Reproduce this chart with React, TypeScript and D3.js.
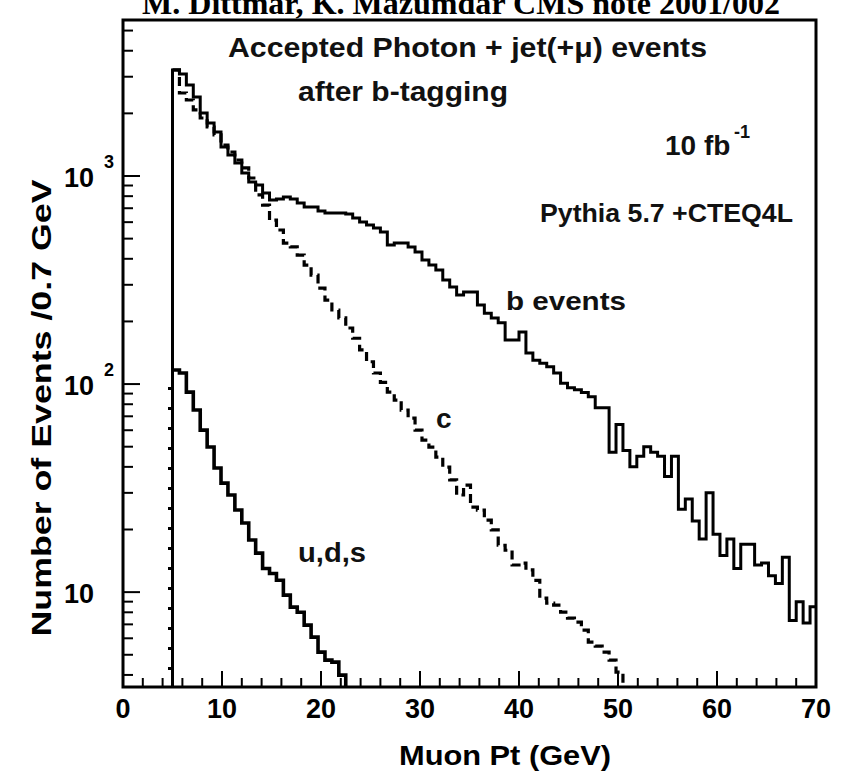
import React from "react";
import * as d3 from "d3";

// ---- data ----
const binStart = 5; // GeV
const binWidth = 0.7; // GeV

const bEvents = [3234, 3094, 2738, 2398, 2009, 1798, 1627, 1379, 1262, 1155,
  1034, 936, 905, 829, 767, 775, 793, 775, 742, 710,
  710, 679, 664, 664, 664, 657, 628, 601, 581, 562,
  538, 466, 476, 476, 456, 431, 395, 373, 353, 316,
  293, 268, 277, 277, 240, 219, 208, 197, 163, 163,
  178, 141, 130, 126, 121, 113, 101, 96, 94, 91,
  87, 77, 77, 47, 64, 48, 40, 45, 50, 47,
  45, 36, 45, 25, 28, 22, 18, 30, 19, 15,
  18, 13, 17, 17, 13.5, 13.8, 12, 11, 14.7, 7.3,
  9, 7.1, 8.5];

const cEvents = [3234, 2506, 2319, 2077, 1900, 1720, 1575, 1409, 1304, 1194,
  1093, 978, 811, 725, 614, 550, 476, 456, 417, 373,
  334, 289, 253, 227, 208, 186, 166, 146, 128, 113,
  102, 91.5, 83.8, 75, 68.6, 60.1, 53.8, 49.8, 44.6, 39.9,
  34.6, 29.3, 32.7, 25.6, 24.8, 22.2, 19.9, 16.8, 15.9, 13.5,
  13.8, 12.8, 11.4, 9.36, 8.85, 8.66, 8.01, 7.5, 7.17, 6.57,
  5.75, 5.5, 5.15, 4.71, 4.13, 3.0];

const udsEvents = [116.8, 113, 91.5, 75, 60.1, 49.8, 39.5, 33.4, 29.3, 24.8,
  21.5, 17.8, 15.4, 13, 12.3, 11.4, 9.67, 8.47, 8.01, 6.94,
  6.08, 5.15, 4.71, 4.61, 3.99, 3.0];

const xTicksMajor = [0, 10, 20, 30, 40, 50, 60, 70];
const yDecades = [10, 100, 1000];
const yDecadeExp = ["", "2", "3"];

const xDomain = [0, 70];
const yDomain = [3.5, 5620];

const W = 841;
const H = 773;
const plot = { left: 123, right: 816, top: 20, bottom: 687 };

const FONT = "'Liberation Sans', Arial, Helvetica, sans-serif";

export default function App() {
  const x = d3.scaleLinear().domain(xDomain).range([plot.left, plot.right]);
  const y = d3.scaleLog().domain(yDomain).range([plot.bottom, plot.top]);

  const histPath = (vals: number[], withEdge = true) => {
    const pts: [number, number][] = vals.map((v, i) => [binStart + i * binWidth, v]);
    pts.push([binStart + vals.length * binWidth, vals[vals.length - 1]]);
    const line = d3
      .line<[number, number]>()
      .x((d) => x(d[0]))
      .y((d) => y(Math.max(d[1], 1)))
      .curve(d3.curveStepAfter);
    const body = line(pts) || "";
    if (!withEdge) return body;
    return `M${x(binStart)},${plot.bottom + 2}L${body.slice(1)}`;
  };

  // minor ticks
  const xMinor = d3.range(0, 71, 2).filter((v) => v % 10 !== 0);
  const yMinor: number[] = [];
  [1, 10, 100, 1000].forEach((dec) => {
    for (let k = 2; k <= 9; k++) {
      const v = dec * k;
      if (v >= yDomain[0] && v <= yDomain[1]) yMinor.push(v);
    }
  });

  return (
    <svg
      width={W}
      height={H}
      style={{ position: "absolute", left: 0, top: 0, background: "#fff" }}
      fontFamily={FONT}
    >
      <defs>
        <clipPath id="plotClip">
          <rect x={plot.left} y={plot.top} width={plot.right - plot.left} height={plot.bottom - plot.top} />
        </clipPath>
      </defs>

      {/* title (cut off at top, as in the reference) */}
      <text
        x={461}
        y={14}
        textAnchor="middle"
        fontFamily="'Liberation Serif', 'Times New Roman', serif"
        fontWeight="bold"
        fontSize={32}
        textLength={638}
        lengthAdjust="spacingAndGlyphs"
      >
        M. Dittmar, K. Mazumdar CMS note 2001/002
      </text>

      {/* histograms */}
      <g clipPath="url(#plotClip)" fill="none" stroke="#000">
        <path d={histPath(bEvents)} strokeWidth={3} strokeLinejoin="miter" />
        <path d={histPath(cEvents, false)} strokeWidth={3.2} strokeDasharray="9 5" />
        <path d={histPath(udsEvents, false)} strokeWidth={3.6} />
        <line
          x1={x(binStart) - 3}
          x2={x(binStart) - 3}
          y1={plot.bottom + 3}
          y2={y(udsEvents[0])}
          strokeWidth={3}
          strokeDasharray="3 17"
        />
      </g>

      {/* ticks */}
      <g stroke="#000" strokeWidth={2}>
        {xTicksMajor.map((t) => (
          <line key={"xM" + t} x1={x(t)} x2={x(t)} y1={plot.bottom} y2={plot.bottom - 16} />
        ))}
        {xMinor.map((t) => (
          <line key={"xm" + t} x1={x(t)} x2={x(t)} y1={plot.bottom} y2={plot.bottom - 9} />
        ))}
        {yDecades.map((t) => (
          <line key={"yM" + t} x1={plot.left} x2={plot.left + 17} y1={y(t)} y2={y(t)} />
        ))}
        {yMinor.map((t) => (
          <line key={"ym" + t} x1={plot.left} x2={plot.left + 10} y1={y(t)} y2={y(t)} />
        ))}
      </g>

      {/* frame */}
      <rect
        x={plot.left}
        y={plot.top}
        width={plot.right - plot.left}
        height={plot.bottom - plot.top}
        fill="none"
        stroke="#000"
        strokeWidth={3}
      />

      {/* x tick labels */}
      <g fontSize={27} fontWeight="bold" textAnchor="middle">
        {xTicksMajor.map((t) => (
          <text key={"xl" + t} x={x(t)} y={718}>
            {t}
          </text>
        ))}
      </g>

      {/* y tick labels */}
      <g fontSize={27} fontWeight="bold">
        {yDecades.map((t, i) => (
          <g key={"yl" + t}>
            <text x={94} y={y(t) + 11} textAnchor="end">
              10
            </text>
            {yDecadeExp[i] && (
              <text x={104} y={y(t) - 8} fontSize={18}>
                {yDecadeExp[i]}
              </text>
            )}
          </g>
        ))}
      </g>

      {/* axis titles */}
      <text
        x={505}
        y={765}
        textAnchor="middle"
        fontSize={28}
        fontWeight="bold"
        textLength={212}
        lengthAdjust="spacingAndGlyphs"
      >
        Muon Pt (GeV)
      </text>
      <text
        transform="translate(51,408) rotate(-90)"
        textAnchor="middle"
        fontSize={28}
        fontWeight="bold"
        textLength={457}
        lengthAdjust="spacingAndGlyphs"
      >
        Number of Events /0.7 GeV
      </text>

      {/* annotations */}
      <g fontWeight="bold" fill="#111">
        <text x={228} y={57} fontSize={28} textLength={479} lengthAdjust="spacingAndGlyphs">
          Accepted Photon + jet(+μ) events
        </text>
        <text x={298} y={101} fontSize={28} textLength={210} lengthAdjust="spacingAndGlyphs">
          after b-tagging
        </text>
        <text x={665} y={155} fontSize={28}>
          10 fb
        </text>
        <text x={734} y={138} fontSize={18}>
          -1
        </text>
        <text x={540} y={222} fontSize={26} textLength={253} lengthAdjust="spacingAndGlyphs">
          Pythia 5.7 +CTEQ4L
        </text>
        <text x={506} y={310} fontSize={26} textLength={120} lengthAdjust="spacingAndGlyphs">
          b events
        </text>
        <text x={436} y={428} fontSize={28}>
          c
        </text>
        <text x={298} y={562} fontSize={27} textLength={68} lengthAdjust="spacingAndGlyphs">
          u,d,s
        </text>
      </g>
    </svg>
  );
}
